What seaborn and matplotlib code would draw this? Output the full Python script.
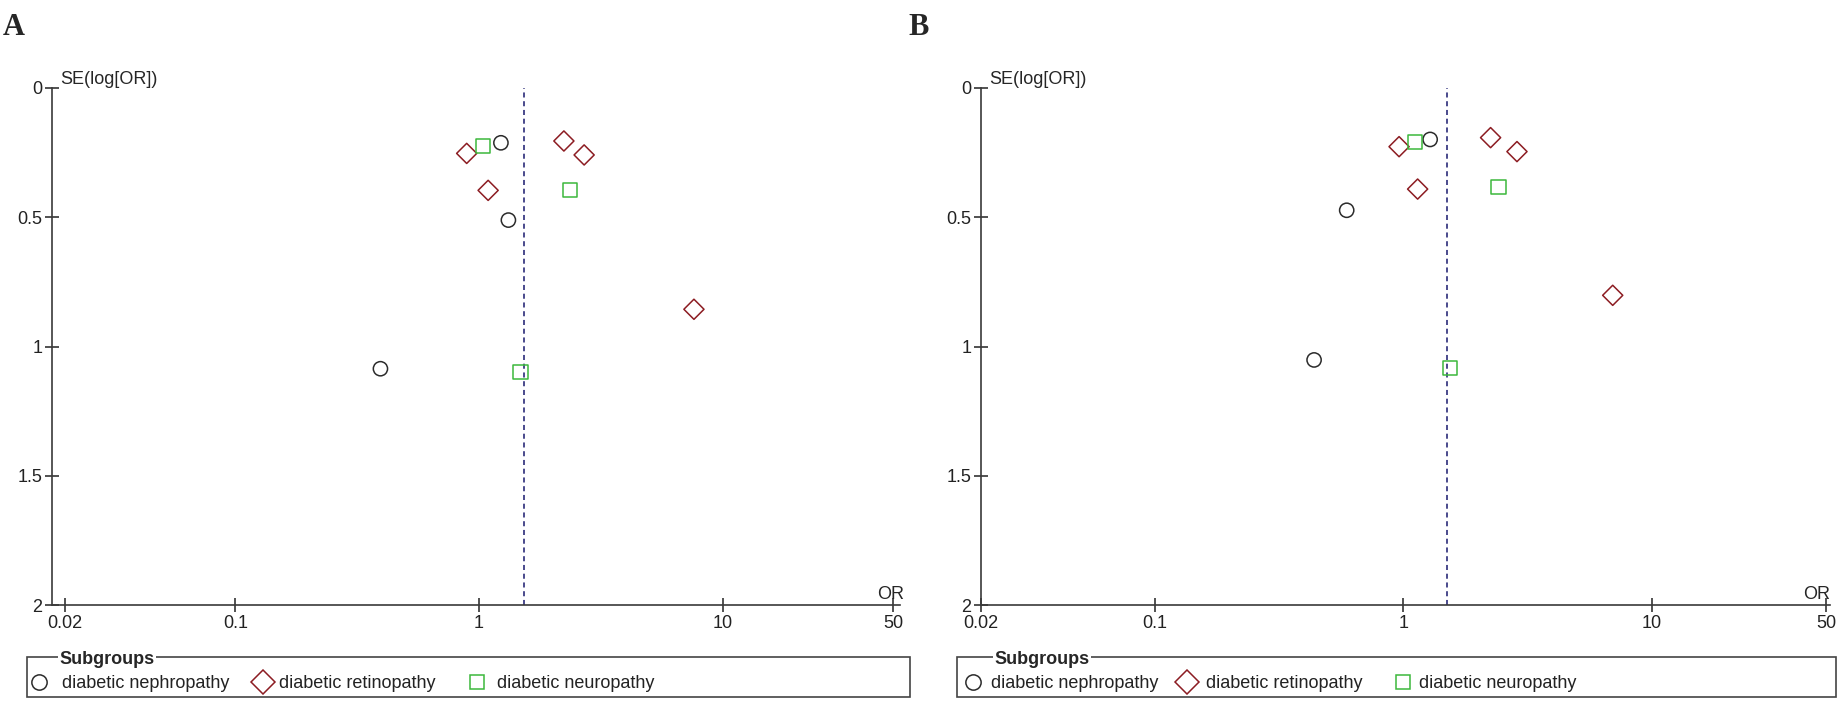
import matplotlib
matplotlib.use("Agg")
import numpy as np
import pandas as pd
import matplotlib.pyplot as plt
import seaborn as sns
from matplotlib.lines import Line2D
from matplotlib.patches import Rectangle

# funnel plots, two analyses (A and B)
subgroups = ["diabetic nephropathy", "diabetic retinopathy", "diabetic neuropathy"]
markers = {"diabetic nephropathy": "o", "diabetic retinopathy": "D", "diabetic neuropathy": "s"}
colors = {"diabetic nephropathy": "#2b2b2b", "diabetic retinopathy": "#8c1c22", "diabetic neuropathy": "#3cb83c"}

a_grp = ["diabetic nephropathy"] * 3 + ["diabetic retinopathy"] * 5 + ["diabetic neuropathy"] * 3
a_or = [1.23, 1.32, 0.394, 0.89, 1.09, 2.23, 2.70, 7.62, 1.04, 2.37, 1.48]
a_se = [0.212, 0.511, 1.086, 0.253, 0.396, 0.205, 0.259, 0.856, 0.223, 0.396, 1.10]
a_pooled = 1.53

b_grp = ["diabetic nephropathy"] * 3 + ["diabetic retinopathy"] * 5 + ["diabetic neuropathy"] * 3
b_or = [1.28, 0.591, 0.437, 0.96, 1.14, 2.24, 2.86, 6.94, 1.11, 2.41, 1.54]
b_se = [0.199, 0.473, 1.052, 0.227, 0.391, 0.192, 0.246, 0.802, 0.210, 0.384, 1.084]
b_pooled = 1.50

x_ticks = [0.02, 0.1, 1, 10, 50]
x_labels = ["0.02", "0.1", "1", "10", "50"]
y_ticks = [0, 0.5, 1, 1.5, 2]
y_labels = ["0", "0.5", "1", "1.5", "2"]

W, H = 1848, 703
sns.set_style("white")
plt.rcParams["font.family"] = ["Liberation Sans", "DejaVu Sans"]

fig = plt.figure(figsize=(W / 100, H / 100), dpi=100)


def px(x0, x1, top, bottom):
    return [x0 / W, (H - bottom) / H, (x1 - x0) / W, (bottom - top) / H]


def funnel(ax, or_vals, se_vals, grp, pooled, xlim, or_dx):
    df = pd.DataFrame({"OR": or_vals, "SE": se_vals, "Subgroup": grp})
    ax.set_xscale("log")
    ax.axvline(pooled, color="#4a4a8c", lw=1.4, ls=(0, (2.6, 1.9)), zorder=1)
    sns.scatterplot(data=df, x="OR", y="SE", hue="Subgroup", style="Subgroup",
                    hue_order=subgroups, style_order=subgroups, palette=colors,
                    markers=markers, s=105, linewidth=1.1, legend=False, ax=ax, zorder=3)
    pts = ax.collections[-1]
    pts.set_edgecolors(pts.get_facecolors())
    pts.set_facecolors("none")
    ax.set_xlim(*xlim)
    ax.set_ylim(2, 0)
    ax.set_xticks(x_ticks)
    ax.set_xticklabels(x_labels)
    ax.minorticks_off()
    ax.set_yticks(y_ticks)
    ax.set_yticklabels(y_labels)
    ax.set_xlabel("")
    ax.set_ylabel("")
    ax.set_facecolor("none")
    for side in ["top", "right"]:
        ax.spines[side].set_visible(False)
    for side in ["left", "bottom"]:
        ax.spines[side].set_color("#3a3a3a")
        ax.spines[side].set_linewidth(1.2)
    ax.tick_params(bottom=True, left=True, direction="inout", length=10, width=1.1,
                   colors="#222222", labelsize=13, pad=2)
    ax.annotate("SE(log[OR])", xy=(0, 0), xycoords=("axes fraction", "data"),
                xytext=(6, 0), textcoords="offset points", ha="left", va="bottom", fontsize=13)
    ax.annotate("OR", xy=(1, 2), xycoords=("axes fraction", "data"),
                xytext=(or_dx, 4), textcoords="offset points", ha="right", va="baseline", fontsize=13)


def legend_box(x0, x1, title_x, mark_x, text_x):
    fig.add_artist(Rectangle((x0 / W, (H - 697) / H), (x1 - x0) / W, 40 / H,
                             transform=fig.transFigure, fill=False, edgecolor="#444444", lw=1.2))
    fig.text(title_x / W, (H - 659) / H, "Subgroups", fontsize=13, fontweight="bold", va="center",
             bbox=dict(facecolor="white", edgecolor="none", pad=1))
    sizes = {"o": 11, "D": 12, "s": 10}
    for name, mx, tx in zip(subgroups, mark_x, text_x):
        m = markers[name]
        fig.add_artist(Line2D([mx / W], [(H - 682) / H], transform=fig.transFigure, marker=m,
                              markersize=sizes[m], markerfacecolor="none",
                              markeredgecolor=colors[name], markeredgewidth=1.1, linestyle="none"))
        fig.text(tx / W, (H - 684) / H, name, fontsize=13, va="center", color="#222222")


ax_a = fig.add_axes(px(52, 900, 88, 605))
funnel(ax_a, a_or, a_se, a_grp, a_pooled, (0.01769, 53.4), 3)
ax_b = fig.add_axes(px(981, 1830, 88, 605))
funnel(ax_b, b_or, b_se, b_grp, b_pooled, (0.02, 51.9), 0)

legend_box(27, 910, 59, [38.6, 263, 477], [62, 279, 497])
legend_box(957, 1836, 994, [973, 1187, 1403], [991, 1206, 1419])

for lab, x in [("A", 3), ("B", 908)]:
    fig.text(x / W, (H - 35) / H, lab, fontsize=22, fontweight="bold",
             family=["Liberation Serif", "DejaVu Serif"], va="baseline")

fig.savefig("out.png", dpi=100)
